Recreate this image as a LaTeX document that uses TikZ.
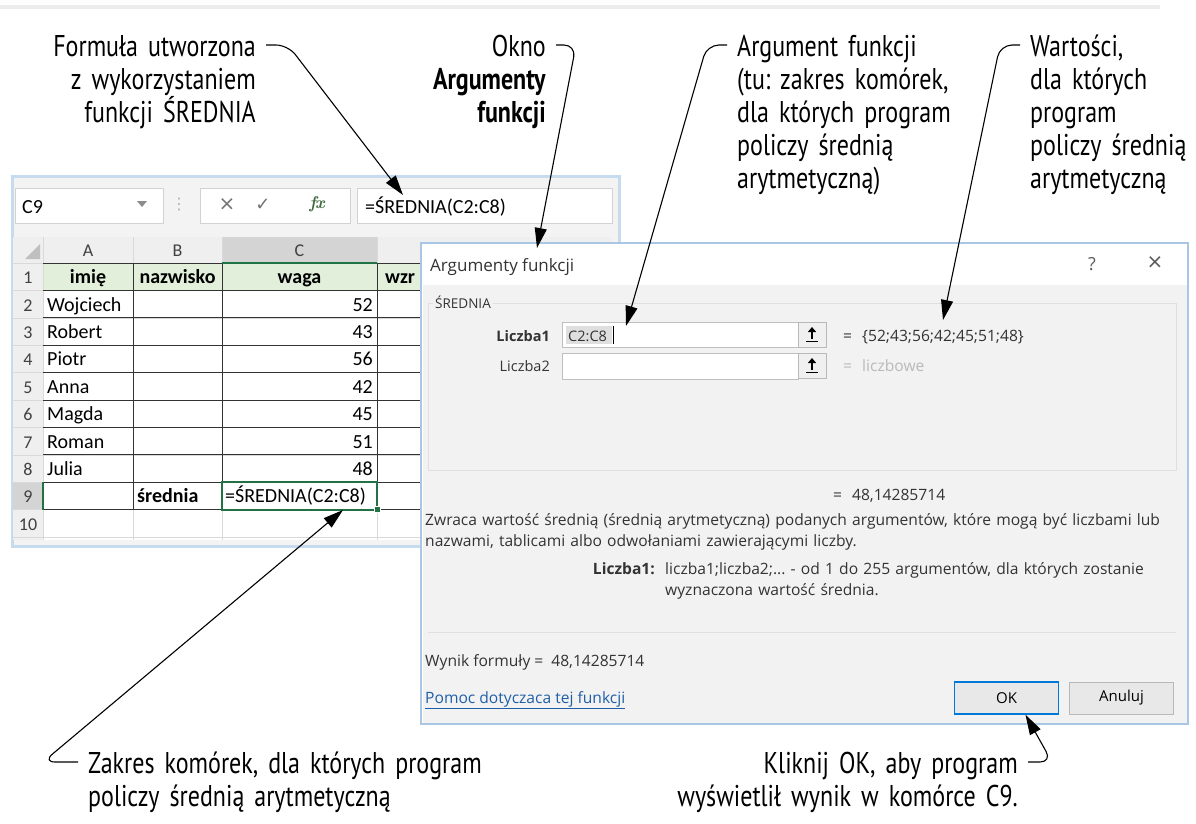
\documentclass[tikz,border=0pt]{standalone}
\usepackage{fontspec}
\newfontfamily\notefont[FakeStretch=0.8]{PT Sans}
\newfontfamily\cellfont{Carlito}
\newfontfamily\dlgfont{Open Sans}
\newfontfamily\symfont{DejaVu Sans}
\usetikzlibrary{arrows.meta}
\frenchspacing

\definecolor{xlgreen}{HTML}{217346}
\definecolor{hdrgreen}{HTML}{E2EFDA}
\definecolor{frameblue}{HTML}{C7DBEF}
\definecolor{dlgblue}{HTML}{A9C6E4}
\definecolor{okblue}{HTML}{0078D7}
\definecolor{linkblue}{HTML}{1F5FA8}
\definecolor{uigrey}{HTML}{F3F3F3}
\definecolor{hdrgrey}{HTML}{EFEFEF}
\definecolor{selgrey}{HTML}{D4D4D4}
\definecolor{gridgrey}{HTML}{D9D9D9}
\definecolor{dlggrey}{HTML}{F2F2F2}
\definecolor{fxgreen}{HTML}{3F6B3F}

\tikzset{
  note/.style={inner sep=0pt, text width=300pt, font=\notefont\fontsize{30}{33}\selectfont},
  pointer/.style={draw=black, line width=1.1pt, rounded corners=12pt, -{Triangle[length=20pt,width=12pt]}},
  cell/.style={inner sep=0pt, anchor=base west, font=\cellfont\fontsize{20}{24}\selectfont},
  hdr/.style={inner sep=0pt, anchor=base, text=black!75, font=\cellfont\fontsize{18}{22}\selectfont},
  dlg/.style={inner sep=0pt, anchor=base west, text=black!80, font=\dlgfont\fontsize{15.6}{21}\selectfont},
  button/.style={draw=gray!55, fill=gray!18, minimum width=104pt, minimum height=32pt, inner sep=0pt, font=\dlgfont\fontsize{15}{18}\selectfont}
}

\begin{document}
\begin{tikzpicture}[x=1pt,y=-1pt]
  \useasboundingbox (0,0) rectangle (1196,823);
  \fill[white] (0,0) rectangle (1196,823);
  \draw[black!7, line width=4pt] (0,7) -- (1160,7);

  % arkusz
  \fill[uigrey] (12,176) rectangle (619,546);
  \draw[frameblue, line width=3pt] (12,176) rectangle (619,546);
  \draw[gray!35, fill=white] (15,188) rectangle (163,223);
  \draw[gray!35, fill=white] (200,188) rectangle (350,223);
  \draw[gray!35, fill=white] (357,188) rectangle (612,223);
  \fill[black!45] (137,201) -- (147,201) -- (142,207) -- cycle;
  \node[cell] (namebox) at (22,213) {C9};
  \node[font=\symfont\fontsize{16}{16}\selectfont, text=black!30] (dots) at (179,205) {⋮};
  \node[font=\symfont\fontsize{20}{20}\selectfont, text=black!55] (cancel) at (227,205) {×};
  \node[font=\symfont\fontsize{18}{18}\selectfont, text=black!55] (enter) at (263,205) {✓};
  \node[font=\itshape\bfseries\fontsize{17}{17}\selectfont, text=fxgreen] (fx) at (317,204) {f\kern-1pt x};
  \node[cell] (formulabar) at (365,213) {=ŚREDNIA(C2:C8)};

  \fill[white] (13,237) rectangle (612,540);
  \fill[hdrgrey] (13,237) rectangle (612,263);
  \fill[hdrgrey] (13,263) rectangle (43,540);
  \fill[selgrey] (222,237) rectangle (377,263);
  \fill[selgrey] (13,482.2) rectangle (43,509.6);
  \fill[hdrgreen] (43,263) rectangle (422,290.4);
  \foreach \k in {0,...,10}
    \draw[gridgrey] (13,{263+27.4*\k}) -- (612,{263+27.4*\k});
  \foreach \xx in {43,133,222,377}
    \draw[gridgrey] (\xx,237) -- (\xx,540);
  \foreach \k in {0,...,9}
    \draw[black!80, line width=0.8pt] (43,{263+27.4*\k}) -- (422,{263+27.4*\k});
  \foreach \xx in {133,222,377}
    \draw[black!80, line width=0.8pt] (\xx,263) -- (\xx,509.6);
  \fill[black!25] (40,244) -- (40,259) -- (25,259) -- cycle;
  \draw[xlgreen, line width=2pt] (222,263) -- (377,263);
  \draw[xlgreen, line width=2pt] (43,482.2) -- (43,509.6);
  \draw[xlgreen, line width=2pt] (222,482.2) rectangle (377,509.6);
  \fill[xlgreen, draw=white] (374,506.6) rectangle (380,512.6);

  \foreach \c/\xx in {A/88,B/177.5,C/299.5}
    \node[hdr] (col\c) at (\xx,256) {\c};
  \node[hdr, anchor=base west] (colD) at (419,256) {D};
  \foreach \row in {1,...,10}
    \node[hdr] (row\row) at (28,{256.3+27.4*\row}) {\row};

  \node[cell, anchor=base] (imie) at (88,283.7) {\textbf{imię}};
  \node[cell, anchor=base] (nazwisko) at (177.5,283.7) {\textbf{nazwisko}};
  \node[cell, anchor=base] (waga) at (299.5,283.7) {\textbf{waga}};
  \node[cell] (wzrost) at (385,283.7) {\textbf{wzr}};
  \foreach \row/\name/\val [evaluate=\row as \yb using 256.3+27.4*\row] in
      {2/Wojciech/52,3/Robert/43,4/Piotr/56,5/Anna/42,6/Magda/45,7/Roman/51,8/Julia/48} {
    \node[cell] (name\row) at (47,\yb) {\name};
    \node[cell, anchor=base east] (waga\row) at (373,\yb) {\val};
  }
  \node[cell] (srednia) at (137,502.9) {\textbf{średnia}};
  \node[cell] (c9) at (225,502.9) {=ŚREDNIA(C2:C8)};

  % okno Argumenty funkcji
  \draw[dlgblue, fill=white, line width=1.5pt] (421,243) rectangle (1188,724);
  \fill[dlggrey] (422.5,285) rectangle (1186.5,722.5);
  \node[dlg, font=\dlgfont\fontsize{17}{20}\selectfont] (title) at (430,271) {Argumenty funkcji};
  \node[dlg, anchor=base, text=black!65, font=\dlgfont\fontsize{18}{20}\selectfont] (help) at (1092,270) {?};
  \node[font=\symfont\fontsize{20}{20}\selectfont, text=black!65] (close) at (1155,263) {×};
  \draw[gray!25] (428,303) rectangle (1176,470);
  \node[dlg, fill=dlggrey, inner xsep=2pt, font=\dlgfont\fontsize{13.5}{16}\selectfont] (fname) at (433,308) {ŚREDNIA};

  \node[dlg, anchor=base east, font=\dlgfont\fontsize{14.5}{17}\selectfont] (lab1) at (550,341) {\textbf{Liczba1}};
  \node[dlg, anchor=base east, font=\dlgfont\fontsize{14.5}{17}\selectfont] (lab2) at (550,371) {Liczba2};
  \draw[gray!50, fill=white] (562,322) rectangle (798,347);
  \draw[gray!50, fill=white] (562,353) rectangle (798,379);
  \fill[gray!25] (566,326) rectangle (612,344);
  \node[dlg, font=\dlgfont\fontsize{14.5}{17}\selectfont] (arg1) at (568,341) {C2:C8};
  \draw (613,326) -- (613,344);
  \foreach \yy in {322,353} {
    \draw[gray!55, fill=gray!12] (798,\yy) rectangle (826,\yy+25);
    \draw[line width=1.5pt, -{Triangle[length=5pt,width=8pt]}] (812,\yy+17) -- (812,\yy+5);
    \draw[line width=1.2pt] (806,\yy+19.5) -- (818,\yy+19.5);
  }
  \node[dlg] (eq1) at (843,341) {=};
  \node[dlg] (val1) at (862,341) {\{52;43;56;42;45;51;48\}};
  \node[dlg, text=gray!55] (eq2) at (843,371) {=};
  \node[dlg, text=gray!55] (val2) at (862,371) {liczbowe};
  \node[dlg] (res) at (833,500) {=\hspace{10pt}48,14285714};
  \node[dlg, text width=760pt] (desc) at (425,525)
    {Zwraca wartość średnią (średnią arytmetyczną) podanych argumentów, które mogą być liczbami lub\\
     nazwami, tablicami albo odwołaniami zawierającymi liczby.};
  \node[dlg, anchor=base east] (lab3) at (655,574) {\textbf{Liczba1:}};
  \node[dlg, text width=520pt] (lab3txt) at (665,574)
    {liczba1;liczba2;... - od 1 do 255 argumentów, dla których zostanie\\wyznaczona wartość średnia.};
  \draw[gray!25] (428,632) -- (1176,632);
  \node[dlg] (wynik) at (425,666) {Wynik formuły =\hspace{8pt}48,14285714};
  \node[dlg, text=linkblue] (pomoc) at (425,703) {\underline{Pomoc dotyczaca tej funkcji}};
  \node[button, draw=okblue, line width=1.5pt] (ok) at (1006.5,698) {OK};
  \node[button] (anuluj) at (1121.5,698) {Anuluj};

  % opisy
  \node[note, align=right, anchor=base east] (formula) at (256,56)
    {Formuła utworzona\\z wykorzystaniem\\funkcji ŚREDNIA};
  \node[note, align=right, anchor=base east] (okno) at (546,56)
    {Okno\\\textbf{Argumenty}\\\textbf{funkcji}};
  \node[note, align=left, anchor=base west] (argument) at (737,56)
    {Argument funkcji\\(tu: zakres komórek,\\dla których program\\policzy średnią\\arytmetyczną)};
  \node[note, align=left, anchor=base west] (wartosci) at (1030,56)
    {Wartości,\\dla których\\program\\policzy średnią\\arytmetyczną};
  \node[note, text width=440pt, align=left, anchor=base west] (zakres) at (88,773)
    {Zakres komórek, dla których program\\policzy średnią arytmetyczną};
  \node[note, text width=440pt, align=right, anchor=base east] (kliknij) at (1018,773)
    {Kliknij OK, aby program\\wyświetlił wynik w komórce C9.};

  \coordinate (fmltip) at (403,195);
  \coordinate (oknotip) at (537,248);
  \coordinate (argtip) at (626,326);
  \coordinate (wartip) at (943,320);
  \coordinate (zaktip) at (343,510);

  \draw[pointer] ([shift={(10,-11)}]formula.base east) -- ++(22,0) -- (fmltip);
  \draw[pointer] ([shift={(10,-11)}]okno.base east) -- ++(20,0) -- (oknotip);
  \draw[pointer] ([shift={(-10,-11)}]argument.base west) -- ++(-20,0) -- (argtip);
  \draw[pointer] ([shift={(-10,-11)}]wartosci.base west) -- ++(-20,0) -- (wartip);
  \draw[pointer] ([shift={(-10,-11)}]zakres.base west) -- ++(-35,0) -- (zaktip);
  \draw[pointer] ([shift={(10,-11)}]kliknij.base east) -- ++(24,0) -- ([xshift=19pt]ok.south);
\end{tikzpicture}
\end{document}
